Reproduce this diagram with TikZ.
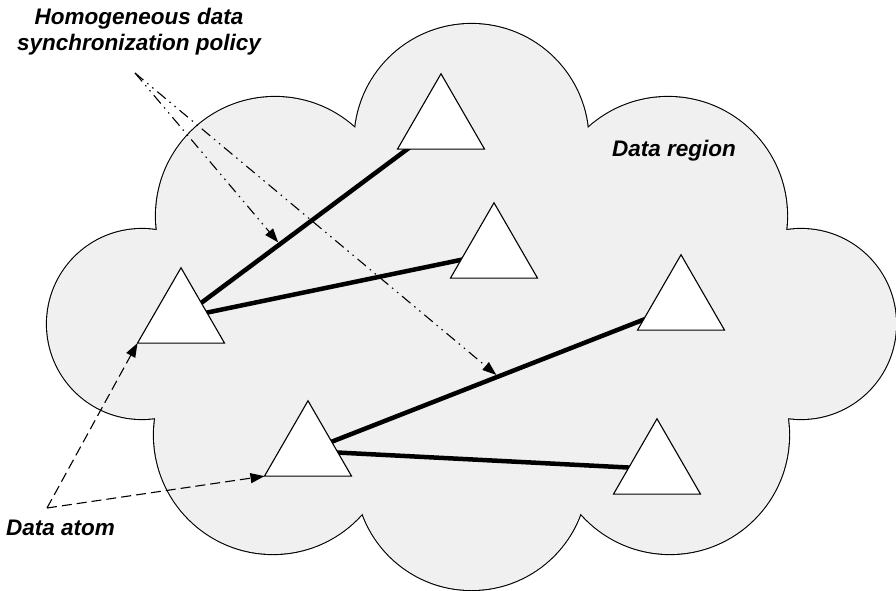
\documentclass[tikz,border=0pt]{standalone}
\usepackage{fontspec}
\setmainfont{Liberation Sans}
\usetikzlibrary{shapes.geometric,arrows.meta,calc}

\pgfdeclarelayer{cloudlayer}
\pgfdeclarelayer{linklayer}
\pgfsetlayers{cloudlayer,linklayer,main}

\definecolor{regionfill}{RGB}{240,240,240}

\begin{document}
\begin{tikzpicture}[x=1pt,y=-1pt,
  atom/.style={regular polygon, regular polygon sides=3, minimum size=100.5pt,
    inner sep=0pt, outer sep=0pt, draw=black, line width=1.1pt, fill=white},
  link/.style={line width=4.5pt, black},
  label/.style={font=\bfseries\itshape\fontsize{22.5}{27}\selectfont, inner sep=0pt},
  ptr/.style={line width=1.1pt, -{Triangle[length=14pt,width=10pt]}},
  policy/.style={ptr, dash pattern=on 11pt off 5pt on 1.5pt off 5pt on 1.5pt off 5pt},
  atomptr/.style={ptr, dash pattern=on 10pt off 5pt},
]
\useasboundingbox (0,0) rectangle (896,591);

% the data region: a cloud made of overlapping lobes
\begin{pgfonlayer}{cloudlayer}
  \foreach \cx/\cy/\r in {275/216/119, 668/216/119, 471.5/141/117,
                          142/324/95, 801/324/95,
                          273/435/119, 670/435/119, 471.5/474/116}
    \draw[line width=2.2pt] (\cx,\cy) circle[radius=\r pt];
  \foreach \cx/\cy/\r in {275/216/119, 668/216/119, 471.5/141/117,
                          142/324/95, 801/324/95,
                          273/435/119, 670/435/119, 471.5/474/116}
    \fill[regionfill] (\cx,\cy) circle[radius=\r pt];
  \fill[regionfill] (157,230) -- (355,128) -- (588,128) -- (786,230)
    -- (788,419) -- (581,513) -- (362,513) -- (155,419) -- cycle;
\end{pgfonlayer}

% data atoms
\node[atom] (t1) at (441,124) {};
\node[atom] (t2) at (494,253) {};
\node[atom] (t3) at (181,318) {};
\node[atom] (t4) at (308,451) {};
\node[atom] (t5) at (681,305) {};
\node[atom] (t6) at (657,469) {};

% synchronization links between atoms
\begin{pgfonlayer}{linklayer}
  \draw[link] (t3.center) -- (t1.center);
  \draw[link] (t3.center) -- (t2.center);
  \draw[link] (t4.center) -- (t5.center);
  \draw[link] (t4.center) -- (t6.center);
\end{pgfonlayer}

% labels
\node[label, anchor=base] (policyA) at (139,25) {Homogeneous data};
\node[label, anchor=base] (policyB) at (139,51) {synchronization policy};
\node[label, anchor=base west] (regionlbl) at (612,157) {Data region};
\node[label, anchor=base west] (atomlbl) at (6,535) {Data atom};

% pointers
\coordinate (polsrc) at (135,73);
\coordinate (atomsrc) at (47,508);
\coordinate (linkA) at ($(t3.center)!0.38!(t1.center)$);
\coordinate (linkB) at ($(t4.center)!0.51!(t5.center)$);

\draw[policy, shorten >=2.5pt] (polsrc) -- (linkA);
\draw[policy, shorten >=2.5pt] (polsrc) -- (linkB);
\draw[atomptr] (atomsrc) -- (t3.corner 2);
\draw[atomptr] (atomsrc) -- (t4.corner 2);
\end{tikzpicture}
\end{document}
